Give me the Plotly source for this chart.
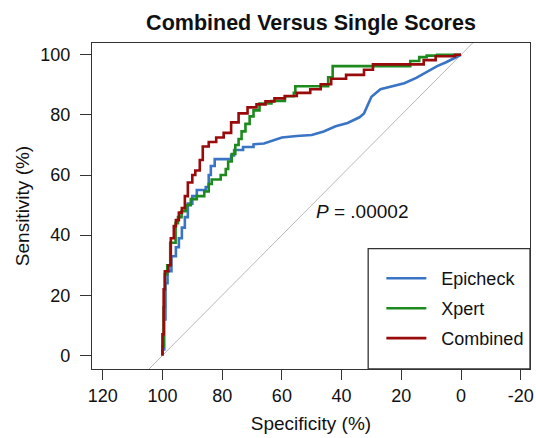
import plotly.graph_objects as go

# ---- data (specificity %, sensitivity %) ----
combined_spec = [100, 100, 99.6, 99.6, 99.2, 99.2, 98.0, 98.0, 97.2, 97.2, 96.2, 96.2, 95.5, 95.5,
                 94.5, 94.5, 93.5, 93.5, 92.5, 92.5, 91.5, 91.5, 90.0, 90.0, 89.0, 89.0, 87.5, 87.5,
                 86.5, 86.5, 84.5, 84.5, 82.0, 82.0, 79.5, 79.5, 77.0, 77.0, 74.5, 74.5, 71.5, 71.5,
                 68.5, 68.5, 65.5, 65.5, 62.5, 62.5, 59.0, 59.0, 55.0, 55.0, 50.5, 50.5, 47.0, 47.0,
                 43.5, 43.5, 38.5, 38.5, 32.5, 32.5, 29.5, 29.5, 12.5, 12.5, 8.5, 8.5, 2.0, 2.0, 0]
combined_sens = [0, 7, 7, 22, 22, 28, 28, 30, 30, 39, 39, 43, 43, 45,
                 45, 47.5, 47.5, 49, 49, 53, 53, 57.5, 57.5, 60, 60, 61.5, 61.5, 65,
                 65, 69.5, 69.5, 71, 71, 72.5, 72.5, 74, 74, 77.5, 77.5, 80.5, 80.5, 82.5,
                 82.5, 83.5, 83.5, 84.5, 84.5, 85.5, 85.5, 86.3, 86.3, 87.3, 87.3, 88.5, 88.5, 90.2,
                 90.2, 92.0, 92.0, 93.3, 93.3, 95.0, 95.0, 96.8, 96.8, 98.2, 98.2, 99.5, 99.5, 100, 100]

xpert_spec = [100, 100, 99.6, 99.6, 99.2, 99.2, 98.4, 98.4, 97.4, 97.4, 95.6, 95.6, 94.8, 94.8,
              93.6, 93.6, 92.2, 92.2, 90.5, 90.5, 88.5, 88.5, 86.0, 86.0, 84.5, 84.5, 83.5, 83.5,
              80.5, 80.5, 78.8, 78.8, 78.0, 78.0, 76.8, 76.8, 75.6, 75.6, 74.5, 74.5, 73.5, 73.5,
              72.2, 72.2, 70.8, 70.8, 69.5, 69.5, 67.5, 67.5, 63.5, 63.5, 59.0, 59.0, 56.0, 56.0,
              55.5, 55.5, 44.5, 44.5, 43.0, 43.0, 17.0, 17.0, 14.0, 14.0, 11.5, 11.5, 8.0, 8.0, 0]
xpert_sens = [0, 3, 3, 16, 16, 27, 27, 30, 30, 37.5, 37.5, 44, 44, 46,
              46, 48, 48, 50, 50, 52, 52, 53, 53, 54.5, 54.5, 57, 57, 58.5,
              58.5, 60, 60, 62, 62, 64.5, 64.5, 67, 67, 70, 70, 72, 72, 74.5,
              74.5, 77, 77, 79.5, 79.5, 81.5, 81.5, 83.8, 83.8, 84.6, 84.6, 86.2, 86.2, 87.3,
              87.3, 89.5, 89.5, 92.5, 92.5, 96.2, 96.2, 97.9, 97.9, 99.2, 99.2, 99.7, 99.7, 100, 100]

epicheck_spec = [100, 100, 99.4, 99.4, 99.0, 99.0, 98.3, 98.3, 97.0, 97.0, 95.5, 95.5, 94.5, 94.5,
                 93.5, 93.5, 92.5, 92.5, 91.5, 91.5, 90.0, 90.0, 88.5, 88.5, 85.5, 85.5, 84.5, 84.5,
                 83.8, 83.8, 82.5, 82.5, 77.0, 77.0, 76.0, 76.0, 73.0, 73.0, 69.5, 69.5,
                 66.0, 63.0, 60.0, 55.0, 50.0, 46.0, 42.0, 38.0, 34.0, 32.5, 30.0, 27.0, 23.0,
                 19.0, 15.0, 12.0, 8.0, 5.0, 3.0, 0]
epicheck_sens = [0, 2, 2, 12, 12, 24, 24, 28, 28, 33, 33, 36, 36, 39,
                 39, 42.5, 42.5, 46, 46, 50.5, 50.5, 53, 53, 55, 55, 56, 56, 60,
                 60, 63, 63, 65.3, 65.3, 66.5, 66.5, 68.3, 68.3, 69.3, 69.3, 70.2,
                 70.5, 71.5, 72.5, 73.0, 73.3, 74.5, 76.2, 77.3, 79.2, 80.5, 86.0, 88.5, 89.5,
                 90.5, 92.3, 94.0, 96.2, 97.5, 98.6, 100]

chance_spec = [140, -40]
chance_sens = [-40, 140]

series_names = ["Epicheck", "Xpert", "Combined"]
series_colors = ["#3a74c4", "#1c8a1c", "#990a0a"]

x_ticks = [120, 100, 80, 60, 40, 20, 0, -20]
y_ticks = [0, 20, 40, 60, 80, 100]

FONT = "Liberation Sans, Arial, Helvetica, sans-serif"
NBSP = "\u00a0"

fig = go.Figure()
fig.add_trace(go.Scatter(x=chance_spec, y=chance_sens, mode="lines",
                         line=dict(color="#b8b8b8", width=1), showlegend=False, hoverinfo="skip"))

for name, color, xs, ys in zip(series_names, series_colors,
                               [epicheck_spec, xpert_spec, combined_spec],
                               [epicheck_sens, xpert_sens, combined_sens]):
    fig.add_trace(go.Scatter(x=xs, y=ys, mode="lines", name=NBSP * 2 + name, legendgroup=name,
                             line=dict(color=color, width=2.6)))

# legend box
fig.add_shape(type="rect", xref="x", yref="y", x0=31.1, x1=-23.1, y0=-4.5, y1=35.5,
              line=dict(color="#333333", width=1.3), fillcolor="rgba(0,0,0,0)", layer="above")

fig.add_annotation(x=49.3, y=47.9, xref="x", yref="y", xanchor="left", yanchor="middle",
                   text="<i>P</i> = .00002", showarrow=False,
                   font=dict(size=19, color="#111111", family=FONT))

fig.update_layout(
    width=536, height=438,
    margin=dict(l=92, r=2, t=43, b=69),
    paper_bgcolor="white", plot_bgcolor="white",
    font=dict(family=FONT, color="#111111"),
    title=dict(text="<b>Combined Versus Single Scores</b>", x=0.5, xanchor="center",
               xref="paper", y=0.948, yanchor="middle", yref="container",
               font=dict(size=21.5, color="#111111", family=FONT)),
    xaxis=dict(range=[123.6, -23.1], tickvals=x_ticks, ticktext=[str(v) for v in x_ticks],
               ticks="outside", ticklen=10, tickwidth=1.3, tickcolor="#333333",
               showline=True, linecolor="#333333", linewidth=1.3, mirror=True,
               showgrid=False, zeroline=False, tickfont=dict(size=18, family=FONT),
               ticklabeloverflow="allow",
               title=dict(text="Specificity (%)", font=dict(size=19, family=FONT), standoff=11)),
    yaxis=dict(range=[-4.5, 103.9], tickvals=y_ticks,
               ticks="outside", ticklen=11, tickwidth=1.3, tickcolor="#333333",
               showline=True, linecolor="#333333", linewidth=1.3, mirror=True,
               showgrid=False, zeroline=False, tickfont=dict(size=18, family=FONT),
               ticklabelstandoff=6,
               title=dict(text="Sensitivity (%)", font=dict(size=19, family=FONT), standoff=5)),
    legend=dict(x=0.6606, y=0.334, xanchor="left", yanchor="top", xref="paper", yref="paper",
                bgcolor="rgba(0,0,0,0)", borderwidth=0, itemwidth=40, tracegroupgap=3.5,
                font=dict(size=18, family=FONT, color="#111111")),
)

fig.write_html("out.html", config={"displayModeBar": False},
               post_script="document.body.style.margin='0';document.body.style.padding='0';")
